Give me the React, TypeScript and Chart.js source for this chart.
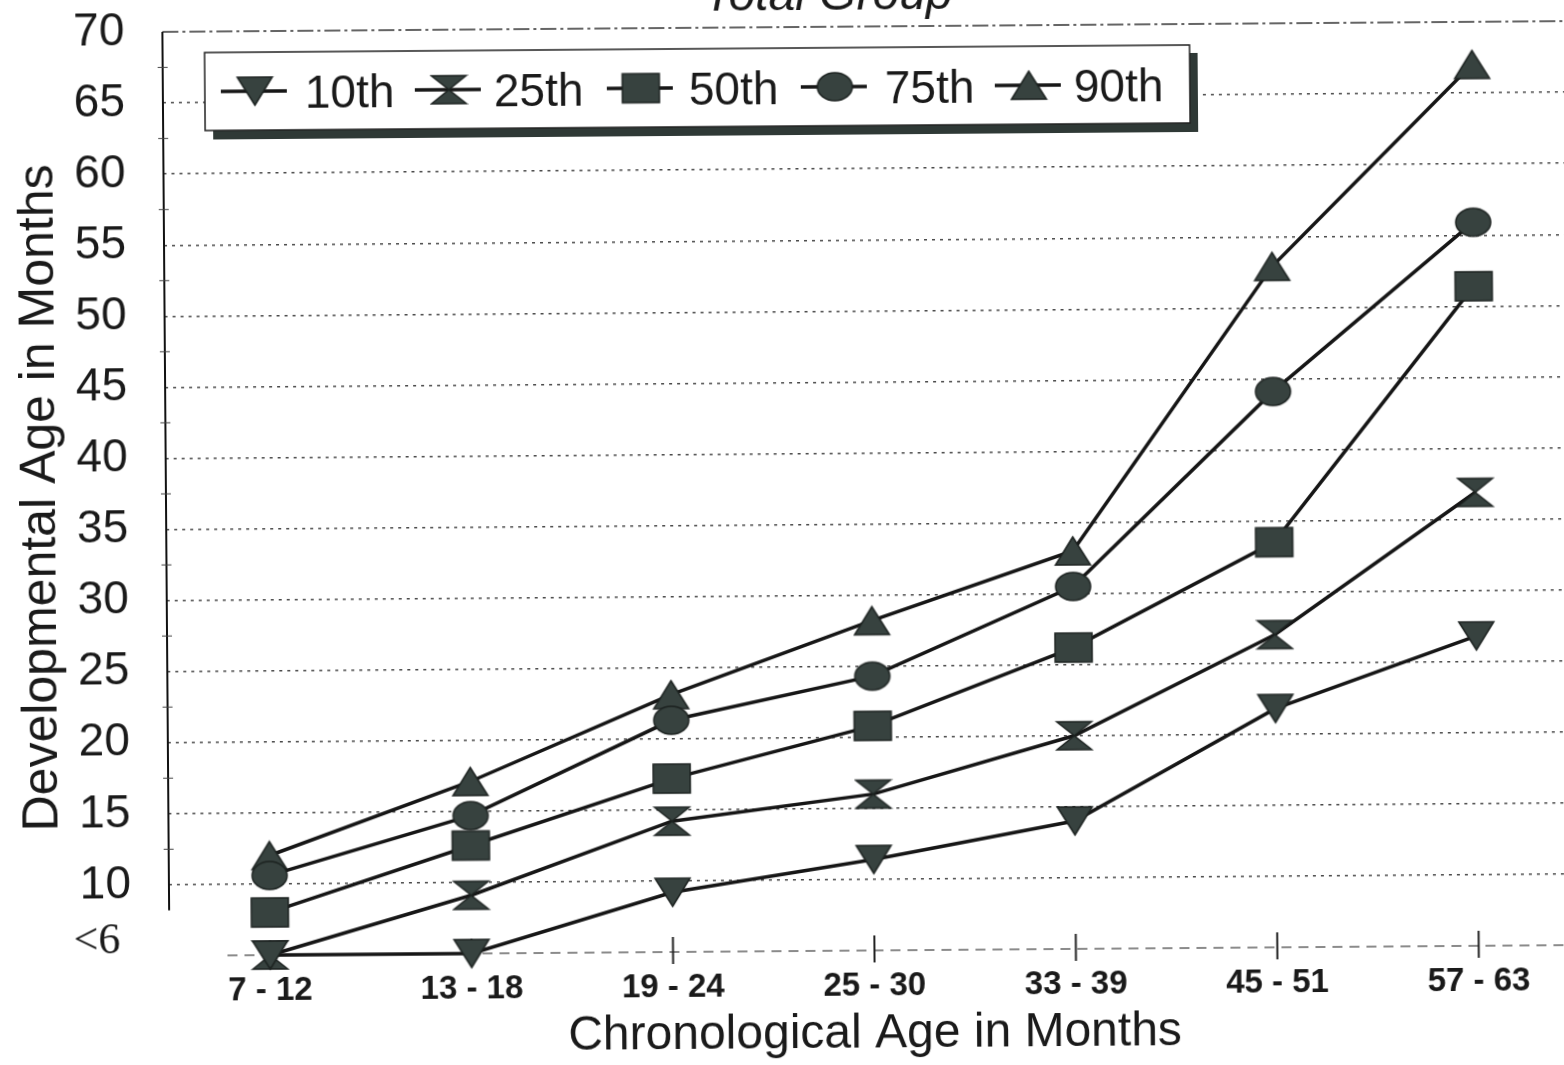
import React, { useEffect, useRef } from 'react';
import { Chart, registerables } from 'chart.js';

Chart.register(...registerables);

// ---- data ----
const categories = ['7 - 12', '13 - 18', '19 - 24', '25 - 30', '33 - 39', '45 - 51', '57 - 63'];
const p10 = [5, 5, 9.2, 11.4, 14.0, 21.8, 26.8];
const p25 = [5, 9.1, 14.2, 16.0, 20.0, 27.0, 36.9];
const p50 = [8.0, 12.6, 17.2, 20.8, 26.2, 33.5, 51.4];
const p75 = [10.6, 14.7, 21.3, 24.3, 30.5, 44.1, 55.9];
const p90 = [12.0, 17.1, 23.1, 28.2, 33.0, 52.9, 67.0];
const seriesNames = ['10th', '25th', '50th', '75th', '90th'];
const markerKinds = ['down', 'hourglass', 'square', 'circle', 'up'];
const yTickValues = [6, 10, 15, 20, 25, 30, 35, 40, 45, 50, 55, 60, 65, 70];
const yMinorValues = [12.5, 17.5, 22.5, 27.5, 32.5, 37.5, 42.5, 47.5, 52.5, 57.5, 62.5, 67.5];
const yMin = 5;
const yMax = 70;
const chartTitle = 'Total Group';
const yTitle = 'Developmental Age in Months';
const xTitle = 'Chronological Age in Months';

const SANS = '"Liberation Sans", Arial, sans-serif';
const SERIF = '"Liberation Serif", "Times New Roman", serif';
const INK = '#1a1a1a';
const FILL = '#37423f';
const EDGE = '#1c2220';

function makeMarker(kind: string): HTMLCanvasElement {
  const sizes: Record<string, [number, number]> = {
    down: [35, 28],
    up: [35, 28],
    hourglass: [35, 28],
    square: [37, 29],
    circle: [35, 28],
  };
  const [w, h] = sizes[kind];
  const pad = 2;
  const c = document.createElement('canvas');
  c.width = w + pad * 2;
  c.height = h + pad * 2;
  const ctx = c.getContext('2d')!;
  ctx.translate(pad, pad);
  ctx.fillStyle = FILL;
  ctx.strokeStyle = EDGE;
  ctx.lineWidth = 1.5;
  ctx.beginPath();
  if (kind === 'down') {
    ctx.moveTo(0, 0);
    ctx.lineTo(w, 0);
    ctx.lineTo(w / 2, h);
    ctx.closePath();
  } else if (kind === 'up') {
    ctx.moveTo(w / 2, 0);
    ctx.lineTo(w, h);
    ctx.lineTo(0, h);
    ctx.closePath();
  } else if (kind === 'hourglass') {
    ctx.moveTo(0, 0);
    ctx.lineTo(w, 0);
    ctx.lineTo(w / 2, h / 2);
    ctx.lineTo(w, h);
    ctx.lineTo(0, h);
    ctx.lineTo(w / 2, h / 2);
    ctx.closePath();
  } else if (kind === 'square') {
    ctx.rect(0, 0, w, h);
  } else {
    ctx.ellipse(w / 2, h / 2, w / 2, h / 2, 0, 0, Math.PI * 2);
  }
  ctx.fill();
  ctx.stroke();
  return c;
}

export default function App() {
  const ref = useRef<HTMLCanvasElement | null>(null);

  useEffect(() => {
    if (!ref.current) return;
    const markers = markerKinds.map(makeMarker);
    const seriesValues = [p10, p25, p50, p75, p90];

    const decor = {
      id: 'decor',
      beforeDatasetsDraw(chart: any) {
        const { ctx, chartArea, scales } = chart;
        const y = scales.y;
        const x = scales.x;
        ctx.save();
        // top border line (value 70)
        ctx.strokeStyle = '#333';
        ctx.lineWidth = 1.6;
        ctx.setLineDash([16, 4, 3, 4]);
        ctx.beginPath();
        ctx.moveTo(chartArea.left, y.getPixelForValue(yMax));
        ctx.lineTo(chartArea.right, y.getPixelForValue(yMax));
        ctx.stroke();
        // x axis dashed line
        ctx.strokeStyle = '#666';
        ctx.lineWidth = 1.5;
        ctx.setLineDash([10, 7]);
        ctx.beginPath();
        ctx.moveTo(chartArea.left + 58, chartArea.bottom);
        ctx.lineTo(chartArea.right, chartArea.bottom);
        ctx.stroke();
        ctx.setLineDash([]);
        // x tick marks crossing the axis
        ctx.strokeStyle = '#222';
        ctx.lineWidth = 2;
        categories.forEach((_, i) => {
          const px = x.getPixelForValue(i);
          ctx.beginPath();
          ctx.moveTo(px, chartArea.bottom - 15);
          ctx.lineTo(px, chartArea.bottom + 12);
          ctx.stroke();
        });
        // y axis solid line (stops above the x axis)
        ctx.strokeStyle = '#111';
        ctx.lineWidth = 2;
        ctx.beginPath();
        ctx.moveTo(chartArea.left, y.getPixelForValue(yMax));
        ctx.lineTo(chartArea.left, y.getPixelForValue(8.2));
        ctx.stroke();
        // minor ticks
        ctx.strokeStyle = '#444';
        ctx.lineWidth = 1;
        yMinorValues.forEach((v) => {
          const py = y.getPixelForValue(v);
          ctx.beginPath();
          ctx.moveTo(chartArea.left - 5, py);
          ctx.lineTo(chartArea.left + 5, py);
          ctx.stroke();
        });
        ctx.restore();
      },
      afterDraw(chart: any) {
        const { ctx } = chart;
        ctx.save();
        // chart title (cut off at the top of the page)
        ctx.fillStyle = INK;
        ctx.font = `italic 48px ${SANS}`;
        ctx.textAlign = 'center';
        ctx.textBaseline = 'alphabetic';
        ctx.fillText(chartTitle, 832, 50);

        // y axis title
        ctx.save();
        ctx.translate(41, 532);
        ctx.rotate(-Math.PI / 2);
        ctx.font = `50px ${SANS}`;
        ctx.textAlign = 'center';
        ctx.textBaseline = 'middle';
        ctx.fillText(yTitle, 0, 0);
        ctx.restore();

        // legend box with shadow
        const bx = 208, by = 88, bw = 985, bh = 78, sh = 8;
        ctx.fillStyle = '#2f3936';
        ctx.fillRect(bx + sh, by + bh, bw, sh + 1);
        ctx.fillRect(bx + bw, by + sh, sh, bh + 1);
        ctx.fillStyle = '#ffffff';
        ctx.fillRect(bx, by, bw, bh);
        ctx.strokeStyle = '#222';
        ctx.lineWidth = 1.5;
        ctx.strokeRect(bx, by, bw, bh);

        const markerX = [258, 452, 644, 838, 1032];
        const textX = [308, 497, 692, 888, 1077];
        const my = by + bh / 2;
        ctx.font = `46px ${SANS}`;
        ctx.textAlign = 'left';
        ctx.textBaseline = 'alphabetic';
        seriesNames.forEach((name, i) => {
          ctx.strokeStyle = '#161616';
          ctx.lineWidth = 3.5;
          ctx.beginPath();
          ctx.moveTo(markerX[i] - 34, my);
          ctx.lineTo(markerX[i] + 32, my);
          ctx.stroke();
          const m = markers[i];
          ctx.drawImage(m, markerX[i] - m.width / 2, my - m.height / 2);
          ctx.fillStyle = INK;
          ctx.fillText(name, textX[i], my + 17);
        });
        ctx.restore();
      },
    };

    const chart = new Chart(ref.current, {
      type: 'line',
      data: {
        labels: categories,
        datasets: seriesNames.map((name, i) => ({
          label: name,
          data: seriesValues[i],
          borderColor: '#161616',
          borderWidth: 3.5,
          backgroundColor: FILL,
          pointStyle: markers[i] as any,
          pointRadius: 16,
          pointHoverRadius: 16,
          tension: 0,
          fill: false,
          clip: false,
        })),
      },
      options: {
        responsive: false,
        animation: false,
        events: [],
        layout: { padding: { top: 67, left: 0, right: 24, bottom: 0 } },
        plugins: {
          legend: { display: false },
          title: { display: false },
          tooltip: { enabled: false },
        },
        scales: {
          x: {
            type: 'category',
            offset: true,
            grid: { display: false, drawTicks: false },
            border: { display: false },
            ticks: {
              color: INK,
              padding: 16,
              maxRotation: 0,
              autoSkip: false,
              font: { family: SANS, size: 33, weight: 'bold' },
            },
            title: {
              display: true,
              text: xTitle,
              color: INK,
              font: { family: SANS, size: 48 },
              padding: { top: 0, bottom: 6 },
            },
            afterFit: (s: any) => {
              s.height = 119;
            },
          },
          y: {
            type: 'linear',
            min: yMin,
            max: yMax,
            afterBuildTicks: (s: any) => {
              s.ticks = yTickValues.map((v) => ({ value: v }));
            },
            grid: {
              color: (c: any) =>
                c.tick && c.tick.value >= 10 && c.tick.value < yMax ? '#4a4a4a' : 'rgba(0,0,0,0)',
              lineWidth: 1.4,
              drawTicks: false,
            },
            border: { display: false, dash: [3, 5] },
            ticks: {
              color: INK,
              padding: 38,
              font: (c: any) =>
                c.tick && c.tick.value === 6
                  ? { family: SERIF, size: 44 }
                  : { family: SANS, size: 46 },
              callback: (v: any) => (v === 6 ? '<6 ' : String(v)),
            },
            afterFit: (s: any) => {
              s.width = 166;
            },
          },
        },
      },
      plugins: [decor],
    } as any);

    return () => chart.destroy();
  }, []);

  return (
    <div
      style={{
        position: 'fixed',
        left: 0,
        top: 0,
        width: 1564,
        height: 1065,
        overflow: 'hidden',
        background: '#ffffff',
      }}
    >
      <div
        style={{
          position: 'absolute',
          left: 0,
          top: -40,
          width: 1600,
          height: 1110,
          transform: 'rotate(-0.44deg)',
          transformOrigin: '800px 540px',
        }}
      >
        <canvas ref={ref} width={1600} height={1110} style={{ width: 1600, height: 1110, display: 'block' }} />
      </div>
    </div>
  );
}
